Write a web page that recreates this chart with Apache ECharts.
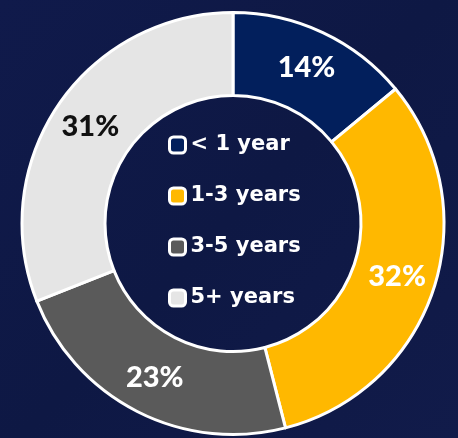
<!DOCTYPE html>
<html>
<head>
<meta charset="utf-8">
<script src="https://cdn.jsdelivr.net/npm/echarts@6/dist/echarts.min.js"></script>
<style>
html,body{margin:0;padding:0;background:#0f1946;}
#c{width:458px;height:438px;}
</style>
</head>
<body>
<div id="c"></div>
<script>
const categories = ['< 1 year', '1-3 years', '3-5 years', '5+ years'];
const values = [14, 32, 23, 31];
const colors = ['#021f5c', '#ffb800', '#5a5a5a', '#e5e5e5'];
const labelColors = ['#ffffff', '#ffffff', '#ffffff', '#111111'];

const chart = echarts.init(document.getElementById('c'), null, {renderer: 'canvas'});
chart.setOption({
  backgroundColor: {
    type: 'linear', x: 0, y: 0, x2: 1, y2: 1,
    colorStops: [{offset: 0, color: '#101a4b'}, {offset: 0.5, color: '#0e1844'}, {offset: 1, color: '#111b4a'}]
  },
  animation: false,
  legend: {
    orient: 'vertical',
    left: 168,
    top: 133,
    padding: 0,
    itemWidth: 16,
    itemHeight: 16,
    itemGap: 27,
    icon: 'roundRect',
    data: categories,
    itemStyle: {borderColor: '#ffffff', borderWidth: 3},
    textStyle: {color: '#ffffff', fontFamily: 'DejaVu Sans', fontWeight: 'bold', fontSize: 21, lineHeight: 24}
  },
  series: [{
    type: 'pie',
    center: [233, 223.5],
    radius: [128, 211],
    startAngle: 90,
    clockwise: true,
    silent: true,
    itemStyle: {borderColor: '#ffffff', borderWidth: 3},
    label: {
      show: true,
      position: 'inside',
      formatter: '{c}%',
      fontFamily: 'Lato',
      fontWeight: 900,
      fontSize: 29
    },
    labelLine: {show: false},
    data: categories.map((n, i) => ({
      name: n, value: values[i],
      itemStyle: {color: colors[i]},
      label: {color: labelColors[i]}
    }))
  }]
});
</script>
</body>
</html>
